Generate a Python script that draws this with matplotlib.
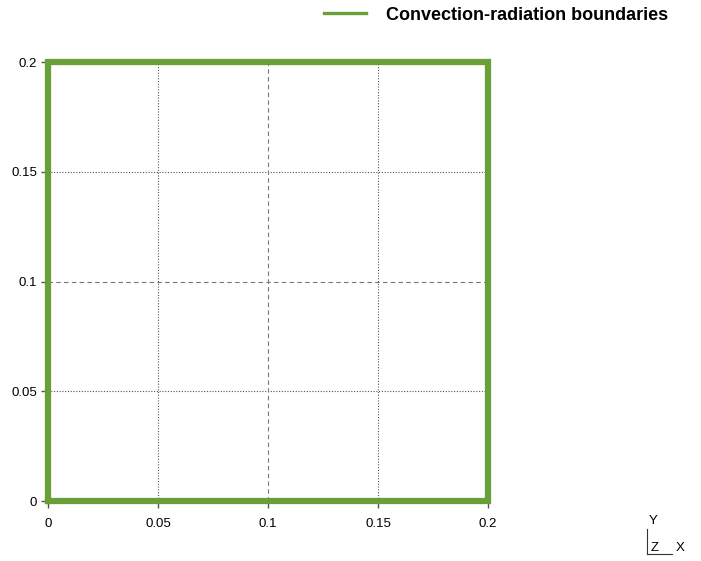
import matplotlib
matplotlib.use("Agg")
import matplotlib.pyplot as plt
from matplotlib.lines import Line2D

# Boundary outline of the square domain
boundary_x = [0.0, 0.2, 0.2, 0.0, 0.0]
boundary_y = [0.0, 0.0, 0.2, 0.2, 0.0]
x_ticks = [0, 0.05, 0.1, 0.15, 0.2]
y_ticks = [0, 0.05, 0.1, 0.15, 0.2]
tick_labels = ["0", "0.05", "0.1", "0.15", "0.2"]
series_label = "Convection-radiation boundaries"

green = "#689f38"

plt.rcParams["font.family"] = ["Liberation Sans", "DejaVu Sans"]

W, H = 701, 561
fig = plt.figure(figsize=(W / 100, H / 100), dpi=100)
ax = fig.add_axes([48 / W, (H - 501) / H, 440 / W, 439 / H])

ax.plot(boundary_x, boundary_y, color=green, lw=4.5, solid_capstyle="projecting",
        solid_joinstyle="miter", clip_on=False, zorder=3)

ax.set_xlim(0, 0.2)
ax.set_ylim(0, 0.2)
ax.set_xticks(x_ticks)
ax.set_xticklabels(tick_labels)
ax.set_yticks(y_ticks)
ax.set_yticklabels(tick_labels)
for s in ax.spines.values():
    s.set_visible(False)
ax.tick_params(length=5, width=1, color="#555555", labelsize=9.5)
ax.tick_params(axis="x", pad=7)
ax.tick_params(axis="y", pad=3)

# grid: dotted at quarter lines, dashed at the centre
for v in (0.05, 0.15):
    ax.axvline(v, color="#555555", lw=0.8, ls=(0, (1, 1.5)), zorder=1)
    ax.axhline(v, color="#555555", lw=0.8, ls=(0, (1, 1.5)), zorder=1)
ax.axvline(0.1, color="#777777", lw=0.8, ls=(0, (4, 3)), zorder=1)
ax.axhline(0.1, color="#777777", lw=0.8, ls=(0, (4, 3)), zorder=1)

# legend
leg_h = [Line2D([], [], color=green, lw=2.4)]
fig.legend(leg_h, [series_label], loc="center left",
           bbox_to_anchor=(308 / W, 1 - 15 / H), frameon=False,
           handlelength=2.3, handletextpad=1.1,
           prop={"weight": "bold", "size": 13})

# orientation triad
fig.add_artist(Line2D([647 / W, 647 / W], [1 - 529 / H, 1 - 554 / H], color="#333333", lw=0.8))
fig.add_artist(Line2D([647 / W, 672 / W], [1 - 554 / H, 1 - 554 / H], color="#333333", lw=0.8))
fig.text(653 / W, 1 - 521 / H, "Y", ha="center", va="center", fontsize=9.5)
fig.text(655 / W, 1 - 548 / H, "Z", ha="center", va="center", fontsize=9.5)
fig.text(680 / W, 1 - 548 / H, "X", ha="center", va="center", fontsize=9.5)

fig.savefig("out.png", dpi=100)
